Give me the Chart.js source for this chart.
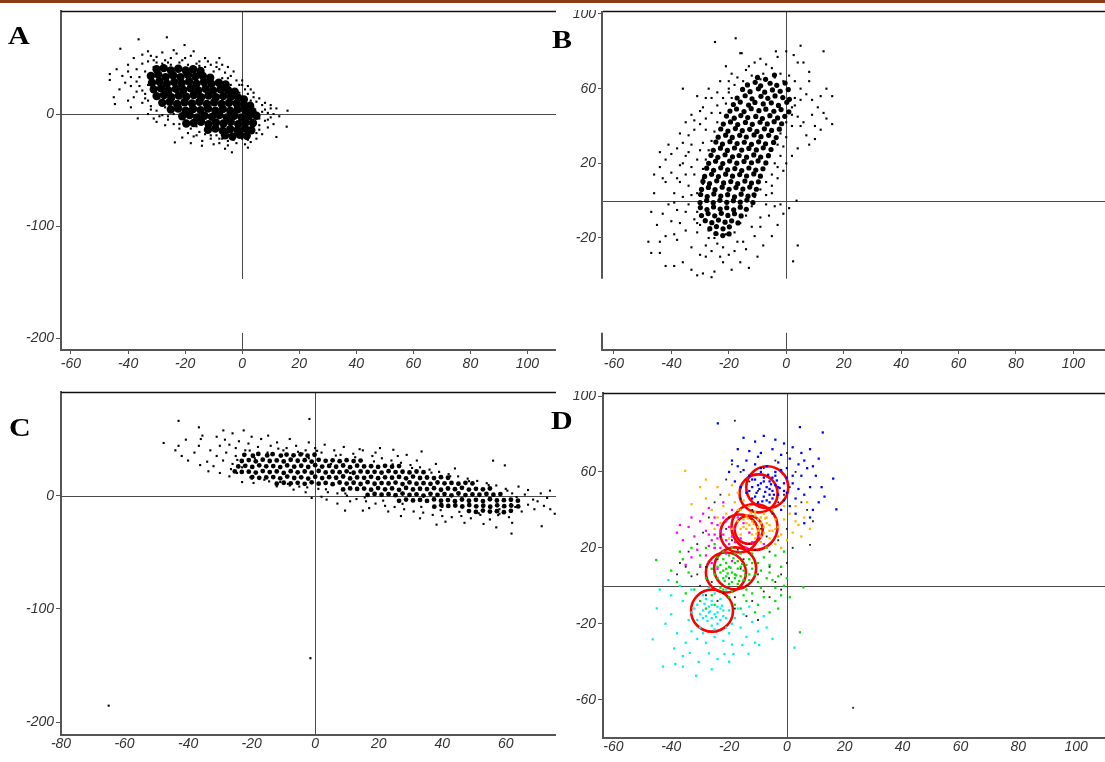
<!DOCTYPE html>
<html>
<head>
<meta charset="utf-8">
<script src="https://cdn.jsdelivr.net/npm/chart.js@4.4.0/dist/chart.umd.min.js"></script>
<style>
  html, body { margin: 0; padding: 0; background: #fff; }
  #page { position: relative; width: 1105px; height: 762px; overflow: hidden; }
  .rule { position: absolute; left: 0; top: 0; width: 1105px; height: 3px; background: #8a3d12; }
  canvas { position: absolute; }
  .tag { position: absolute; font-family: "Liberation Serif", "Times New Roman", serif; font-weight: bold;
         font-size: 25px; line-height: 25px; transform: scaleX(1.2); transform-origin: left top; color: #000; }
</style>
</head>
<body>
<div id="page">
  <div class="rule"></div>
  <canvas id="chartA" width="556" height="380" style="left:0;top:0"></canvas>
  <canvas id="chartB" width="549" height="370" style="left:556px;top:10px"></canvas>
  <canvas id="chartC" width="556" height="382" style="left:0;top:380px"></canvas>
  <canvas id="chartD" width="549" height="371" style="left:556px;top:391px"></canvas>
  <div class="tag" style="left:8px;top:23px">A</div>
  <div class="tag" style="left:552px;top:27px">B</div>
  <div class="tag" style="left:9px;top:415px">C</div>
  <div class="tag" style="left:551px;top:408px">D</div>
</div>
<script>
// tick values
const xTicksAB = [-60, -40, -20, 0, 20, 40, 60, 80, 100];
const xTicksC = [-80, -60, -40, -20, 0, 20, 40, 60];
const yTicksA = [-200, -100, 0];
const yTicksB = [-20, 20, 60, 100];
const yTicksC = [-200, -100, 0];
const yTicksD = [-60, -20, 20, 60, 100];

// A : dense part and scattered points
const aCore = [
  [-30,40],[-27.5,41],[-25,39],[-22.4,40.5],[-19.8,39],[-17.2,40],[-14.6,38.5],
  [-32,34],[-29.4,35],[-26.8,33],[-24.2,34.5],[-21.6,33],[-19,35],[-16.4,33.5],[-13.8,34],[-11.2,32.5],
  [-31.6,28],[-29,29],[-26.4,27],[-23.8,28.5],[-21.2,27.5],[-18.6,29],[-16,27],[-13.4,28.5],[-10.8,27],[-8.2,28],[-5.8,26.5],
  [-31,22],[-28.4,23],[-25.8,21],[-23.2,22.5],[-20.6,21.5],[-18,23],[-15.4,21],[-12.8,22.5],[-10.2,21],[-7.6,22],[-5,21.5],[-2.6,20],
  [-30,16],[-27.4,17],[-24.8,15],[-22.2,16.5],[-19.6,15.5],[-17,17],[-14.4,15],[-11.8,16.5],[-9.2,15],[-6.6,16],[-4,15.5],[-1.4,14.5],[0.6,13],
  [-28,10],[-25.4,11],[-22.8,9],[-20.2,10.5],[-17.6,9.5],[-15,11],[-12.4,9],[-9.8,10.5],[-7.2,9],[-4.6,10],[-2,9.5],[0.6,8.5],[2.8,7.5],
  [-25,4],[-22.4,5],[-19.8,3],[-17.2,4.5],[-14.6,3.5],[-12,5],[-9.4,3],[-6.8,4.5],[-4.2,3],[-1.6,4],[1,3.5],[3.6,2.5],
  [-21,-2],[-18.4,-1],[-15.8,-3],[-13.2,-1.5],[-10.6,-2.5],[-8,-1],[-5.4,-3],[-2.8,-1.5],[-0.2,-3],[2.4,-2],[5,-1.5],
  [-19.6,-8.5],[-17,-8],[-14.4,-7],[-11.8,-9],[-9.2,-7.5],[-6.6,-8.5],[-4,-7],[-1.4,-9],[1.2,-7.5],[3.8,-8],
  [-12,-14],[-9.4,-13],[-6.8,-15],[-4.2,-13.5],[-1.6,-14.5],[1,-13],[3.2,-14.5],
  [-6,-19],[-3.4,-20],[-0.8,-18.5],[1.6,-19.5]
];
const aSpread = [
  [-46.4,35.7],[-46.4,30.4],[-44.6,8.9],[-42.7,58.3],[-36.3,66.7],[-26.4,68.5],[-20.2,61.6],
  [-40,44],[-38,50],[-35,53],[-33,47],[-37,40],[-39,33],[-41,28],[-43,22],[-36,25],[-34,18],[-38,15],[-35,10],[-40,12],
  [-33,56],[-30,51],[-28,55],[-25,50],[-23,54],[-21,48],[-18,52],[-15,47],[-13,50],[-11,44],[-9,46],[-8,40],[-6,37],
  [-4,34],[-2,30],[-1,26],[1,22],[2,18],[4,15],[5,11],[7,8],[8,4],[9,1],[10,-3],[8,-6],[11,-9],[6,-14],[7,-18],[5,-22],
  [3,-25],[1,-27],[-2,-26],[-5,-24],[-8,-26],[-11,-22],[-14,-24],[-17,-20],[-19,-17],[-22,-13],[-24,-9],[-26,-5],
  [-28,-1],[-30,3],[-32,7],[-33,12],[-31,-4],[-36.6,-3.9],[-23.6,-25.3],[-14.1,-28.3],[-3.6,-34.2],[15.9,3],[15.6,-11.3],
  [12,-20.5],[-28,45],[-31,42],[-34,38],[-36,33],[-37,29],[-33,26],[-35,21],[-29,14],[-27,6],[-24,0],[-20,-6],[-16,-11],
  [-13,-18],[-9,-19],[-5,-28],[0,-22],[4,-10],[6,-4],[7,2],[3,9],[1,14],[-1,19],[-4,26],[-7,32],[-10,38],[-13,42],
  [-16,45],[-19,44],[-22,46],[-25,44],[-27,48],[-29,38],[-24,57],[-17,56],[-32,52],[-44,40],[-42,34],[13,-2],[12,5],
  [10,8],[-10,-27],[-6,-31],[2,-30],[-18,-26],[-21,-21],[-27,-10],[-30,-7],[-33,0],[-39,6],[-45,15],[-8,50],[-5,42],
  [0,30],[3,22],[-35,45],[-31,48],[-26,46],[-20,50],[-12,47],[-7,44],[-3,38],[0,26],[2,25],[4,19],[6,14],[8,10],[10,5],
  [11,0],[9,-5],[9,-12],[5,-17],[2,-23],[-3,-23],[-7,-22],[-11,-19],[-15,-16],[-18,-13],[-22,-9],[-26,-2],[-29,-2],
  [-32,4],[-34,14],[-37,20],[-39,25],[-40,38],[-30,46],[-22,43],[-15,43],[-9,42],[-5,32],[3,12],[6,-10],[-8,-22],[-16,-19]
];

// B
const bCore = [
  [-10,66],[-7.2,65],[-4.1,67.3],
  [-13.5,62],[-10.8,63.4],[-8.9,61.5],[-5.6,62.9],[-3.3,61.8],[-0.4,63],
  [-15.2,59.6],[-12.6,58.4],[-9.7,59.9],[-7.5,58.1],[-4.8,59.3],[-2.1,58.6],[0.7,59.5],
  [-17.1,55],[-14.3,56.2],[-11.9,54.6],[-8.8,55.9],[-6.4,54.8],[-3.9,56.1],[-1.2,55.2],[1.1,54.3],
  [-18.4,51.5],[-16,52.8],[-13.1,51.2],[-10.9,52.6],[-8,51.8],[-5.2,52.4],[-2.7,51],[0.2,52.7],
  [-19.6,48],[-17.3,49.1],[-14.7,47.7],[-12.2,49.3],[-9.5,48.2],[-7.1,49],[-4.3,47.9],[-1.8,48.8],[0.9,47.6],
  [-20.8,45.3],[-18.1,44.2],[-15.8,45.6],[-13.4,44.5],[-10.6,45.1],[-8.3,44],[-5.7,45.5],[-3,44.3],[-0.5,45.2],
  [-21.9,41],[-19.4,42.2],[-16.9,40.8],[-14.2,41.9],[-11.8,40.9],[-9.1,42],[-6.6,41.1],[-4.2,42.3],[-1.6,41.2],
  [-22.8,38.4],[-20.3,37.3],[-17.7,38.6],[-15.3,37.5],[-12.7,38.2],[-10.2,37.1],[-7.6,38.5],[-5.1,37.6],[-2.4,38.3],
  [-23.7,34],[-21.1,35.1],[-18.8,33.9],[-16.2,35],[-13.9,34.1],[-11.2,35.2],[-8.8,34.3],[-6.1,35],[-3.5,33.8],
  [-24.5,31.4],[-22.2,30.3],[-19.6,31.6],[-17.1,30.6],[-14.6,31.3],[-12.1,30.2],[-9.6,31.5],[-7.2,30.5],[-4.4,31.2],
  [-25.4,27],[-22.9,28.1],[-20.5,26.9],[-18,28.2],[-15.5,27.1],[-13,28],[-10.4,27.2],[-8,28.3],[-5.3,27.4],
  [-26.2,24.3],[-23.8,23.2],[-21.3,24.6],[-18.7,23.5],[-16.4,24.2],[-13.8,23.3],[-11.3,24.5],[-8.9,23.4],[-6.2,24.1],
  [-27,20],[-24.6,21.1],[-22.1,19.9],[-19.7,21.2],[-17.2,20.1],[-14.7,21],[-12.1,20.3],[-9.8,21.3],[-7.1,20.2],
  [-27.7,17.4],[-25.3,16.3],[-22.8,17.6],[-20.4,16.5],[-17.9,17.2],[-15.5,16.1],[-13,17.5],[-10.6,16.4],[-8.1,17.1],
  [-28.4,13],[-26,14.1],[-23.6,12.9],[-21.1,14.2],[-18.7,13.1],[-16.2,14],[-13.8,13.2],[-11.3,14.3],[-9,13.1],
  [-29,10.3],[-26.7,9.2],[-24.2,10.6],[-21.8,9.5],[-19.3,10.2],[-16.9,9.1],[-14.4,10.5],[-12.1,9.4],[-9.7,10.1],
  [-29.5,6],[-27.1,7.1],[-24.8,5.9],[-22.3,7.2],[-19.9,6.1],[-17.5,7],[-15.1,6.2],[-12.7,7.3],[-10.4,6.1],
  [-29.8,3.3],[-27.5,2.2],[-25.2,3.6],[-22.8,2.5],[-20.4,3.2],[-18,2.1],[-15.7,3.5],[-13.3,2.4],[-11.2,3.1],
  [-30,-1],[-27.7,0.1],[-25.4,-1.1],[-23.1,0.2],[-20.7,-0.9],[-18.4,0],[-16,-0.8],[-13.7,0.3],[-11.6,-1],
  [-29.9,-3.7],[-27.6,-4.8],[-25.3,-3.4],[-23,-4.5],[-20.7,-3.8],[-18.3,-4.9],[-16,-3.5],[-13.9,-4.6],
  [-29.5,-8],[-27.2,-6.9],[-24.9,-8.1],[-22.6,-6.8],[-20.3,-7.9],[-18,-7],[-15.7,-8.2],
  [-28.2,-10.7],[-25.9,-11.8],[-23.6,-10.4],[-21.3,-11.5],[-19,-10.8],[-16.8,-11.9],
  [-26.6,-15],[-24.3,-13.9],[-22,-15.1],[-19.8,-14],
  [-24.5,-17.6],[-22.1,-18.7],[-19.9,-17.8]
];
const bSpread = [
  [-24.8,85],[-17.6,87],[-16,79],[-15.5,79],[-3.6,80],[-3,77],[0,80],[2.6,78],[5,83],[13,80],[4,74],[6,74],[8,69],
  [-9,76],[-11,74],[-13,72],[-7,73],[-5,71],[-2,68],[1,67],[3,64],[5,60],[7,57],[9,54],[11,50],[13,47],[16,56],[16,41],
  [14,44],[12,38],[10,33],[8,30],[7,35],[5,40],[4,45],[2,50],[3,55],[1,60],[-1,64],[-4,66],[-8,68],[-12,67],[-15,64],
  [-18,62],[-20,58],[-22,55],[-24,51],[-26,47],[-28,44],[-30,41],[-32,38],[-34,35],[-36,31],[-38,28],[-40,25],[-42,22],
  [-44,18],[-46,14],[-36,60],[-31,56],[-29,50],[-33,46],[-35,42],[-27,60],[-23,64],[-19,68],[-21,72],[-14,70],
  [-47,-28],[-44,-28],[-42,-19],[-40,-11],[-38,-5],[-36,2],[-34,8],[-45,-13],[-43,-7],[-41,-2],[-39,4],[-37,10],[-35,14],
  [-33,18],[-31,22],[-30,27],[-29,31],[-32,-10],[-35,-16],[-38,-21],[-33,-25],[-30,-29],[-36,-33],[-33,-37],[-29,-39],
  [-25,-38],[-22,-33],[-19,-37],[-16,-33],[-13,-36],[-10,-30],[-8,-24],[-5,-19],[-3,-13],[-1,-7],[-2,-2],[1,-4],[4,-24],
  [2.4,-32.5],[-28,-24],[-25,-20],[-22,-25],[-20,-29],[-17,-22],[-14,-26],[-11,-19],[-9,-14],[-6,-8],[-4,-3],[-7,3],
  [-5,8],[-3,12],[-1,16],[0,20],[2,24],[4,28],[-31,-17],[-27,-16],[-24,-18],[-34,-2],[-31,4],[-29,9],[-26,-27],[-39,-35],
  [-42,-35],[-26,-41],[-31,-40],[-44,-22],[-48,-22],[3.6,0],
  [-20,60],[-17,66],[-13,62],[-9,65],[-6,63],[-3,62],[-1,55],[1,47],[2,40],[0,34],[-1,29],[-2,24],[-3,18],[-5,14],
  [-7,10],[-9,6],[-11,2],[-12,-3],[-14,-8],[-16,-12],[-18,-17],[-21,-18],[-24,-23],[-27,-20],[-30,-13],[-31,-6],[-30,-1],
  [-30,6],[-29,12],[-29,17],[-28,22],[-27,27],[-26,32],[-25,37],[-24,42],[-23,47],[-21,52],[-19,55],[-26,55],[-28,38],
  [-33,30],[-35,24],[-37,19],[-40,15],[-42,10],[-39,-1],
  [-36,20],[-38,12],[-34,26],[-32,14],[-33,3],[-35,-6],[-31,-12],[-37,-12],[-39,-18],[-28,-30],[-23,-30],[-18,-27],
  [-15,-22],[-12,-14],[-9,-9],[-7,-2],[-5,4],[-4,20],[-3,30],[-2,36],[0,42],[2,46],[3,51],[5,54],[6,42],[9,46],[10,40],
  [12,56],[14,60],[8,64],[-20,64],[-24,58],[-28,55],[-30,48],[-32,43],[-37,36],[-41,30],[-44,26],[-43,12],[-46,4],[-47,-6]
];

// C
const cCore = [
  [-22.3,36],[-19.6,35.2],[-17.9,36.8],[-15.1,35.5],[-13.4,36.6],[-10.8,35.4],[-9,36.3],
  [-6.8,35.6],[-4.6,36.4],[-2.4,35.3],[-0.2,36.1],
  [-23.1,30.6],[-20.9,31.4],[-18.7,30.3],[-16.5,31.8],[-14.3,30.6],[-12.1,31.1],[-9.9,30.2],[-7.7,31.7],[-5.5,30.8],
  [-3.3,31.3],[-1.1,30.1],[1.1,31.6],[3.3,30.7],[5.5,31.2],[7.7,30.4],[9.9,31.3],[12.1,30.5],[14.3,31],
  [-24.2,25.8],[-22,26.3],[-19.8,25.4],[-17.6,26.8],[-15.4,25.9],[-13.2,26.1],[-11,25.2],[-8.8,26.7],[-6.6,25.6],
  [-4.4,26.4],[-2.2,25.3],[0,26.9],[2.2,25.7],[4.4,26.2],[6.6,25.5],[8.8,26.6],[11,25.1],[13.2,26.5],[15.4,25.8],
  [17.6,26],[19.8,25.4],[22,26.3],[24.2,25.6],[26.4,26.1],
  [-25.3,21.4],[-23.1,20.9],[-20.9,21.2],[-18.7,20.4],[-16.5,21.7],[-14.3,20.8],[-12.1,21.4],[-9.9,20.1],[-7.7,21.6],
  [-5.5,20.6],[-3.3,21.3],[-1.1,20.3],[1.1,21.8],[3.3,20.5],[5.5,21.1],[7.7,20.7],[9.9,21.5],[12.1,20.2],[14.3,21.4],
  [16.5,20.9],[18.7,21],[20.9,20.4],[23.1,21.6],[25.3,20.8],[27.5,21.1],[29.7,20.5],[31.9,21.3],[34.1,20.7],
  [-19.8,16.4],[-17.6,15.7],[-15.4,16.1],[-13.2,16.4],[-11,15.3],[-8.8,16.8],[-6.6,15.6],[-4.4,16.2],[-2.2,15.1],
  [0,16.7],[2.2,15.5],[4.4,16.3],[6.6,15.8],[8.8,16.9],[11,15.2],[13.2,16.1],[15.4,15.7],[17.6,16.6],[19.8,15.4],
  [22,16.2],[24.2,15.9],[26.4,16.5],[28.6,15.3],[30.8,16.8],[33,15.6],[35.2,16],[37.4,15.5],[39.6,16.3],[41.8,15.8],
  [-12.1,10.5],[-9.9,11.4],[-7.7,10.9],[-5.5,11.3],[-3.3,10.4],[-1.1,11.8],[1.1,10.6],[3.3,11.2],[5.5,10.1],[7.7,11.6],
  [9.9,10.7],[12.1,11.4],[14.3,10.3],[16.5,11.9],[18.7,10.5],[20.9,11.1],[23.1,10.8],[25.3,11.5],[27.5,10.2],
  [29.7,11.7],[31.9,10.6],[34.1,11],[36.3,10.4],[38.5,11.6],[40.7,10.9],[42.9,11.2],[45.1,10.6],[47.3,11.3],[49.5,10.8],
  [8.8,5.5],[11,6.4],[13.2,5.9],[15.4,6.2],[17.6,5.3],[19.8,6.7],[22,5.6],[24.2,6.4],[26.4,5.1],[28.6,6.8],[30.8,5.5],
  [33,6.1],[35.2,5.8],[37.4,6.6],[39.6,5.2],[41.8,6.3],[44,5.7],[46.2,6.9],[48.4,5.4],[50.6,6],[52.8,5.6],[55,6.3],
  [16.5,0.6],[18.7,1.5],[20.9,0.8],[23.1,1.3],[25.3,0.4],[27.5,1.8],[29.7,0.6],[31.9,1.2],[34.1,0.1],[36.3,1.6],
  [38.5,0.7],[40.7,1.4],[42.9,0.3],[45.1,1.9],[47.3,0.5],[49.5,1.1],[51.7,0.8],[53.9,1.5],[56.1,0.9],[58.3,1.4],
  [26.4,-4.6],[28.6,-3.5],[30.8,-4.2],[33,-3.8],[35.2,-4.7],[37.4,-3.3],[39.6,-4.4],[41.8,-3.9],[44,-4.9],[46.2,-3.4],
  [48.4,-4.5],[50.6,-3.7],[52.8,-4.8],[55,-3.2],[57.2,-4.3],[59.4,-4],[61.6,-3.6],[63.8,-4.4],
  [37.5,-9.7],[39.7,-8.4],[41.9,-9.1],[44.1,-8.7],[46.3,-9.6],[48.5,-8.3],[50.7,-9.4],[52.9,-8.9],[55.1,-9.8],
  [57.3,-8.5],[59.5,-9.3],[61.7,-8.8],[63.9,-9.5],
  [48.4,-13.6],[50.6,-14.4],[52.8,-13.2],[55,-14.1],[57.2,-13.7],[59.4,-14.6],[61.6,-13.4]
];
const cSpread = [
  [-65,-185.4],[-1.5,-143.5],[-43,66],[-1.8,67.7],[-47.7,46.5],[-43,44],[-36.6,60.3],[-35.5,53],[-40.7,49.4],[-36.6,44],
  [-28.9,57.6],[-22.5,57.6],[-14.8,53],[-28.4,49.4],[-33.6,21.5],[-32,26],[-36.2,27],[-24.6,20],[-19.4,11.2],[-12.1,8.2],
  [-6.8,5.3],[-1.1,-2],[3.6,-3.5],[9.4,-13.2],[15,-13.2],[20.4,42],[24.6,40.5],[28.8,36],[33.5,39],[56,30.9],[59.7,26.7],
  [38.2,-25.6],[61.8,-33.5],[71.3,-27],[73.9,4.4],[75.4,-16],[68.6,-3.5],
  [-33,40],[-31,35],[-30,44],[-29,31],[-28,38],[-27,45],[-26,28],[-25,35],[-25,42],[-24,48],[-23,25],[-22,40],[-21,46],
  [-20,15],[-18,43],[-17,50],[-16,14],[-14,44],[-12,47],[-11,12],[-9,42],[-8,50],[-6,44],[-5,8],[-3,40],[-2,47],[0,42],
  [1,6],[3,45],[4,3],[6,40],[7,2],[9,43],[10,0],[12,37],[13,-3],[15,40],[16,-5],[18,35],[19,-7],[21,33],[22,-9],[24,31],
  [25,-10],[27,29],[28,-12],[30,27],[31,-14],[33,25],[34,-15],[36,23],[37,-17],[39,21],[40,-18],[42,19],[43,-19],[45,17],
  [46,-18],[48,15],[49,-20],[51,13],[52,-17],[54,11],[55,-21],[57,9],[58,-16],[60,6],[61,-19],[62,2],[63,-10],[64,-4],
  [65,-14],[66,1],[67,-8],[69,-12],[70,-5],[72,-9],[73,-2],[74,-12],[71,2],[67,5],[64,8],[62,-24],[58,-12],[-38,38],
  [-40,31],[-42,35],[-44,40],[-34,30],[-30,20],[-27,17],[-23,12],[-36,50],[-31,52],[-26,55],[-20,52],[-8,9],[-3,3],
  [2,-1],[7,-7],[11,-5],[17,-11],[23,-14],[27,-18],[33,-20],[41,-23],[47,-24],[53,-25],[57,-28],[44,24],[38,28],[32,31],
  [26,35],[19,38],[14,41],[8,36],[2,38],[-4,37],[-10,40],[-15,38],[-19,33],[-2,33],[5,28],[11,20],[25,0],[40,-10],
  [-24.5,31.5],[-20.6,39.8],[-17.4,26.2],[-11.6,41.5],[-5.4,38.7],[0.6,39.6],[6.5,35.4],[12.6,33.9],[18.5,30.2],
  [24.4,27.6],[30.5,24.4],[36.6,20.3],[42.5,17.1],[48.4,12.8],[54.6,9.3],[60.5,4.4],[63.4,-1.2],[61.6,-7.4],[57.6,-17.2],
  [51.5,-15.6],[45.4,-14.3],[39.5,-12.8],[33.4,-9.9],[27.5,-7.2],[21.4,-4.4],[15.6,-1.6],[9.5,1.9],[3.4,5.6],[-2.5,7.3],
  [-8.6,10.4],[-14.5,12.6],[-20.4,16.2],[-26.5,23.4]
];

// D : groups by colour, and the circles
const dBlue = [
  [-23.9,85.6],[4.5,83.6],[12.4,80.8],[16,56.5],[17.1,40.3],[-15,78],[-11,76],[-8,79],[-4,77],[-1,75],[2,73],[5,70],[8,72],
  [-17,72],[-13,71],[-9,70],[-5,72],[-2,69],[1,67],[4,64],[7,62],[10,58],[12,52],[13,47],[11,44],[9,40],[8,36],[6,33],
  [3,38],[1,42],[-1,45],[-3,48],[-5,50],[-7,52],[-9,54],[-11,56],[-13,58],[-15,61],[-17,63],[-19,66],[-20,60],[-18,55],
  [-16,52],[-14,49],[-12,46],[-10,44],[-8,47],[-6,55],[-4,58],[-2,61],[0,57],[2,54],[4,51],[6,48],[8,52],[-3,65],[-7,63],
  [-11,64],[-6,44],[-2,40],[-9,60],[-5,46],[-1,50],[3,46],[5,58],[-12,52],[-8,57],[-4,53],[0,62],[6,66],[-14,66],[-10,68],
  [9,63],[11,67],[-7.5,49.5],[-5.5,53.5],[-9.5,51],[-3.5,55.5],[-6.5,58.5],[-8.5,44.5],[-4.5,48],[-10.5,49],[-2.5,51.5],
  [-10,53],[-6,48],[-3,52],[-8,55],[-5,57],[-11,47],[-1,54],[-7,45],[-4,60],[-12,56],[2,58],[-9,62],[0,49],[-13,50],[-6,51]
];
const dOrange = [
  [-35.2,60.6],[-30,52],[-28,46],[-26,40],[-24,36],[-22,42],[-20,48],[-18,44],[-16,40],[-14,37],[-12,34],[-10,31],[-8,28],
  [-6,25],[-4,22],[-2,20],[0,24],[2,28],[4,32],[6,36],[8,30],[5,26],[3,34],[1,38],[-1,35],[-3,31],[-5,29],[-7,33],[-9,36],
  [-11,39],[-13,42],[-15,45],[-17,49],[-19,53],[-21,38],[-23,33],[-25,30],[-19,30],[-17,34],[-15,31],[-13,28],[-11,25],
  [-9,23],[-7,20],[-12,30],[-10,35],[-8,38],[-6,32],[-4,35],[-2,27],[-14,33],[-16,27],[-20,25],[-24,52],[-28,56],[-33,43],
  [-5,40],[-1,42],[3,42],[7,44],[-11.5,32.5],[-9.5,29.5],[-13.5,35.5],[-7.5,35.5],[-10.5,27.5],[-12.5,38.5],
  [-14,30],[-9,33],[-6,29],[-12,27],[-8,31],[-15,35],[-10,29],[-7,36],[-13,32],[-4,30],[-11,37],[-16,30],[-3,26],[-9,26],[-17,40]
];
const dMagenta = [
  [-38,28],[-36,24],[-34,31],[-32,26],[-30,34],[-28,29],[-26,24],[-24,32],[-22,27],[-20,22],[-18,30],[-16,25],[-14,20],
  [-12,23],[-29,38],[-27,41],[-25,36],[-23,20],[-21,17],[-19,13],[-31,19],[-33,15],[-35,11],[-28,16],[-26,12],[-24,9],
  [-17,36],[-15,33],[-19,40],[-21,34],[-33,36],[-37,32],[-30,10],[-22,44],[-10,26],[-8,22],[-13,28],[-27,21],[-25,27],
  [-23,29],[-20,31],[-24,25],[-19,26],[-26,33],[-21,24],[-27,27],[-18,23],[-25,20],[-22,36]
];
const dGreen = [
  [-45.2,13.6],[4.5,-24.5],[5.7,-0.8],[-40,8],[-38,2],[-36,14],[-34,7],[-32,-2],[-30,11],[-28,4],[-26,-5],[-24,15],[-22,8],
  [-20,1],[-18,12],[-16,5],[-14,-2],[-12,9],[-10,2],[-8,15],[-6,7],[-4,-1],[-2,10],[0,4],[-28,20],[-25,22],[-22,18],[-19,20],
  [-16,17],[-13,14],[-10,12],[-7,20],[-4,16],[-1,18],[-24,4],[-22,-2],[-20,-6],[-18,-10],[-16,-12],[-14,-8],[-12,-4],
  [-10,-10],[-8,-6],[-6,-14],[-4,-8],[-2,-5],[-26,9],[-23,11],[-21,5],[-19,7],[-17,9],[-15,8],[-13,3],[-11,6],[-9,8],[-7,4],
  [-5,3],[-17,1],[-19,-3],[-21,12],[-15,-5],[-30,-8],[-28,-12],[-35,-4],[-25,-10],[-11,-14],[-3,-12],[-1,0],[1,-6],[-20,16],
  [-14,11],[-18,4],[-22,14],[-12,17],[-30,16],[-33,20],[-37,18],[-6,11],[-3,5],[-9,-1],
  [-19.5,9.5],[-17.5,5.5],[-21.5,2.5],[-15.5,11.5],[-18.5,14.5],[-20.5,6.5],[-16.5,2.5],[-14.5,5.5],
  [-23,7],[-18,6],[-20,10],[-16,10],[-22,4],[-17,13],[-24,10],[-15,3],[-21,9],[-19,2],[-13,6],[-25,6],[-18,17],[-12,12],[-23,-1]
];
const dCyan = [
  [-46.4,-28.2],[-45,-11.9],[-42.9,-42.6],[-38.6,-41.2],[-36,-42.6],[-31.4,-47.4],[-30.5,-40.1],[-33.6,-35.3],[-27,-35.6],
  [-24,-38.6],[-21.6,-36],[-18.5,-36],[-13.3,-35.8],[-9.6,-31.2],[-15.4,-31.2],[2.6,-32.6],[-42,-20],[-40,-15],[-38,-25],
  [-36,-8],[-34,-18],[-32,-12],[-30,-22],[-28,-16],[-26,-8],[-24,-20],[-22,-13],[-20,-25],[-18,-17],[-16,-22],[-14,-27],
  [-12,-19],[-10,-24],[-8,-16],[-29,-5],[-27,-1],[-25,-4],[-23,-7],[-21,-2],[-31,-28],[-28,-30],[-25,-27],[-22,-29],
  [-19,-31],[-35,-30],[-39,-33],[-33,-2],[-37,0],[-40,-5],[-27,-11],[-25,-15],[-23,-18],[-29,-13],[-31,-18],[-26,-21],
  [-21,-22],[-17,-12],[-15,-15],[-13,-11],[-11,-30],[-7,-22],[-5,-28],[-44,-2],[-41,3],[-36,-37],[-20,-40],[-26,-44],
  [-33,-24],[-29,-25],[-24,-11],[-26.5,-13.5],[-24.5,-16.5],[-28.5,-9.5],[-22.5,-10.5],[-27.5,-18.5],
  [-27,-14],[-23,-12],[-26,-10],[-24,-14],[-29,-17],[-22,-16],[-28,-7],[-30,-15],[-20,-13],[-26,-17],[-31,-10],[-19,-20],
  [-33,-14],[-25,-23],[-21,-17]
];
const dBlack = [
  [22.9,-64.3],[-18,87],[8,21.6],[-35,10],[-33,5],[-30,0],[-28,-5],[-26,2],[-24,-8],[-22,-4],[-20,4],[-18,-6],[-16,9],
  [-14,0],[-12,-8],[-10,6],[-8,-3],[-6,10],[-4,2],[-2,-2],[-25,20],[-23,26],[-21,30],[-19,24],[-17,19],[-15,14],[-13,22],
  [-11,19],[-9,30],[-7,26],[-5,38],[-3,44],[-1,48],[1,52],[3,60],[5,44],[7,40],[9,34],[-10,50],[-13,55],[-16,60],[-19,64],
  [-21,56],[-23,48],[-25,44],[-27,36],[-29,28],[-31,22],[-34,18],[-37,12],[-38,6],[-6,18],[-3,24],[0,30],[2,20],[-8,62],
  [-4,66],[0,70],[-12,40],[-16,46],[-20,36],[-24,14],[-28,10],[-31,6],[-18,-12],[-14,-16],[-10,-18],[-6,-6],[-2,6],[0,12]
];
const dCircleX = [-6.8, -9.8, -11.2, -16.4, -13.2, -21.1, -17.9, -25.9];
const dCircleY = [51.9, 48.7, 31, 27.6, 29.5, 7, 9.2, -13.1];
const dCircleR = [21, 19, 23, 19, 14, 20, 21, 21];

// pieces of the zero lines that are missing in the figure (y values)
const gapAB = { A: [-195.5, -147.3], B: [-70.8, -41.8] };

const tickFont = { family: '"Liberation Sans", Arial, sans-serif', size: 14, style: 'italic' };
const axisGrey = '#555';

function pts(list) {
  return list.map(p => ({ x: p[0], y: p[1] }));
}

function dots(list, color, radius, style) {
  return {
    data: pts(list),
    backgroundColor: color,
    borderWidth: 0,
    pointStyle: style,
    pointRadius: radius,
    pointHoverRadius: radius
  };
}

// zero lines, top border, and the broken y axis of B
const framePlugin = {
  id: 'frame',
  beforeDatasetsDraw(chart, args, opts) {
    const { ctx, chartArea: a, scales } = chart;
    const x0 = Math.round(scales.x.getPixelForValue(0)) + 0.5;
    const y0 = Math.round(scales.y.getPixelForValue(0)) + 0.5;
    ctx.save();
    ctx.strokeStyle = '#4a4a4a';
    ctx.lineWidth = 1;
    ctx.beginPath();
    ctx.moveTo(a.left, y0);
    ctx.lineTo(a.right, y0);
    if (opts.gap) {
      ctx.moveTo(x0, a.top);
      ctx.lineTo(x0, scales.y.getPixelForValue(opts.gap[1]));
      ctx.moveTo(x0, scales.y.getPixelForValue(opts.gap[0]));
      ctx.lineTo(x0, a.bottom);
    } else {
      ctx.moveTo(x0, a.top);
      ctx.lineTo(x0, a.bottom);
    }
    ctx.stroke();
    ctx.restore();
  },
  afterDraw(chart, args, opts) {
    const { ctx, chartArea: a, scales } = chart;
    ctx.save();
    ctx.strokeStyle = '#111';
    ctx.lineWidth = 1.5;
    ctx.beginPath();
    ctx.moveTo(a.left, a.top + 0.5);
    ctx.lineTo(a.right, a.top + 0.5);
    ctx.stroke();
    if (opts.brokenAxis) {
      ctx.strokeStyle = axisGrey;
      ctx.lineWidth = 2;
      ctx.beginPath();
      ctx.moveTo(a.left - 1, a.top);
      ctx.lineTo(a.left - 1, scales.y.getPixelForValue(opts.gap[1]));
      ctx.moveTo(a.left - 1, scales.y.getPixelForValue(opts.gap[0]));
      ctx.lineTo(a.left - 1, a.bottom + 1);
      ctx.stroke();
    }
    ctx.restore();
  }
};

function makePanel(id, p) {
  new Chart(document.getElementById(id), {
    type: 'scatter',
    data: { datasets: p.datasets },
    options: {
      responsive: false,
      animation: false,
      events: [],
      layout: { autoPadding: false, padding: { top: p.padTop, right: 0, left: 0, bottom: 0 } },
      plugins: { legend: { display: false }, tooltip: { enabled: false }, frame: p.frame || {} },
      scales: {
        x: {
          type: 'linear', min: p.xMin, max: p.xMax,
          afterBuildTicks: s => { s.ticks = p.xTicks.map(v => ({ value: v })); },
          afterFit: s => { s.height = p.xHeight; s.paddingLeft = 0; s.paddingRight = 0; },
          ticks: { font: tickFont, color: '#333', padding: p.xPad, maxRotation: 0, autoSkip: false, callback: v => String(v) },
          grid: { drawOnChartArea: false, drawTicks: true, tickLength: p.xTickLen, tickColor: axisGrey, color: axisGrey },
          border: { display: true, color: axisGrey, width: 2 }
        },
        y: {
          type: 'linear', min: p.yMin, max: p.yMax,
          afterBuildTicks: s => { s.ticks = p.yTicks.map(v => ({ value: v })); },
          afterFit: s => { s.width = p.yWidth; s.paddingTop = 0; s.paddingBottom = 0; },
          ticks: { font: tickFont, color: '#333', padding: 2, autoSkip: false, callback: v => String(v) },
          grid: { drawOnChartArea: false, drawTicks: true, tickLength: 5, tickColor: axisGrey, color: axisGrey },
          border: { display: !(p.frame && p.frame.brokenAxis), color: axisGrey, width: 2 }
        }
      }
    },
    plugins: [framePlugin]
  });
}

makePanel('chartA', {
  xMin: -63.5, xMax: 110, yMin: -210.7, yMax: 92,
  xTicks: xTicksAB, yTicks: yTicksA,
  padTop: 11, yWidth: 61, xHeight: 30, xPad: 2, xTickLen: 4,
  frame: { gap: gapAB.A },
  datasets: [dots(aCore, '#000', 4.2, 'circle'), dots(aSpread, '#000', 1.5, 'rect')]
});

makePanel('chartB', {
  xMin: -63.8, xMax: 111, yMin: -80, yMax: 101.6,
  xTicks: xTicksAB, yTicks: yTicksB,
  padTop: 1, yWidth: 47, xHeight: 30, xPad: 2, xTickLen: 4,
  frame: { gap: gapAB.B, brokenAxis: true },
  datasets: [dots(bCore, '#000', 2.6, 'circle'), dots(bSpread, '#000', 1.5, 'rect')]
});

makePanel('chartC', {
  xMin: -80, xMax: 75.8, yMin: -211.3, yMax: 91.5,
  xTicks: xTicksC, yTicks: yTicksC,
  padTop: 12, yWidth: 61, xHeight: 27, xPad: 0, xTickLen: 1,
  datasets: [dots(cCore, '#000', 2.4, 'circle'), dots(cSpread, '#000', 1.5, 'rect')]
});

const circles = dCircleX.map((x, i) => ({ x: x, y: dCircleY[i], r: dCircleR[i] }));

makePanel('chartD', {
  xMin: -63.6, xMax: 110, yMin: -80.2, yMax: 101.6,
  xTicks: xTicksAB, yTicks: yTicksD,
  padTop: 2, yWidth: 47, xHeight: 24, xPad: 0, xTickLen: 1,
  datasets: [
    dots(dCyan, '#00f0f0', 1.6, 'rect'),
    dots(dGreen, '#00dd00', 1.6, 'rect'),
    dots(dMagenta, '#ff00ff', 1.6, 'rect'),
    dots(dOrange, '#ffb400', 1.6, 'rect'),
    dots(dBlue, '#0000ff', 1.6, 'rect'),
    dots(dBlack, '#222', 1.3, 'rect'),
    {
      type: 'bubble',
      data: circles,
      backgroundColor: 'rgba(0,0,0,0)',
      borderColor: '#ff0000',
      borderWidth: 2.6,
      hoverRadius: 0
    }
  ]
});
</script>
</body>
</html>
